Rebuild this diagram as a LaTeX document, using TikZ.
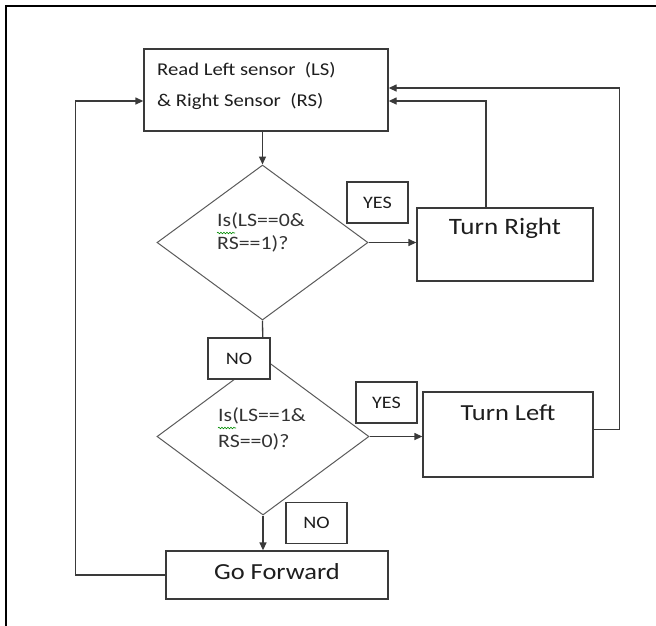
\documentclass[tikz,border=0pt]{standalone}
\usepackage{fontspec}
\setmainfont{Carlito}[FakeStretch=1.15]
\usetikzlibrary{shapes.geometric,arrows.meta,decorations.pathmorphing}
\definecolor{ln}{HTML}{3A3A3A}
\definecolor{dm}{HTML}{5A5A5A}
\definecolor{tx}{HTML}{1E1E1E}
\tikzset{
  box/.style={draw=ln,line width=1.3pt,rectangle,inner sep=0pt,fill=white},
  dia/.style={draw=dm,line width=1pt,diamond,inner sep=0pt},
  lab/.style={draw=ln,line width=1.2pt,rectangle,inner sep=0pt,fill=white,minimum width=61pt,minimum height=41pt,font=\fontsize{17.5}{20}\selectfont,text=tx},
  txt/.style={inner sep=0pt,text=tx},
  qtxt/.style={txt,anchor=west,font=\fontsize{19}{22}\selectfont,text=black!80},
  conn/.style={draw=ln,line width=1.3pt},
  arr/.style={conn,-{Triangle[length=8pt,width=7pt]}},
  squig/.style={draw=green!55!black,line width=0.6pt,decorate,decoration={snake,amplitude=0.8pt,segment length=3pt}}
}
\begin{document}
\begin{tikzpicture}[x=1pt,y=-1pt]
\useasboundingbox (0,0) rectangle (656,625);
\draw[line width=2.2pt,black] (6,626) -- (6,6) -- (657,6);
% boxes
\node[box,minimum width=244pt,minimum height=82pt] (read) at (266,90) {};
\node[box,minimum width=176pt,minimum height=73pt] (tr) at (505,244.5) {};
\node[box,minimum width=170pt,minimum height=85pt] (tl) at (508,434.5) {};
\node[box,minimum width=222pt,minimum height=48pt] (gf) at (277,575) {};
% diamonds
\node[dia,minimum width=211pt,minimum height=155pt] (d1) at (262.5,242.5) {};
\node[dia,minimum width=212pt,minimum height=157pt] (d2) at (263,436.5) {};
% texts
\node[txt,anchor=west,font=\fontsize{18}{20}\selectfont] (t1) at (157,70) {Read Left sensor\ \ (LS)};
\node[txt,anchor=west,font=\fontsize{18}{20}\selectfont] (t2) at (157,101) {\&\ Right Sensor\ \ (RS)};
\node[txt,font=\fontsize{23.5}{26}\selectfont] (ttr) at (505,228) {Turn Right};
\node[txt,font=\fontsize{23}{26}\selectfont] (ttl) at (508,413) {Turn Left};
\node[txt,font=\fontsize{23}{26}\selectfont] (tgf) at (277,572) {Go Forward};
\node[qtxt] (q1a) at (217,221) {Is(LS==0\&};
\node[qtxt] (q1b) at (217,244) {RS==1)?};
\node[qtxt] (q2a) at (218,416) {Is(LS==1\&};
\node[qtxt] (q2b) at (218,442) {RS==0)?};
\draw[squig] (217,233) -- (235,233);
\draw[squig] (218,428) -- (236,428);
% connectors
\draw[arr] (d1.north |- read.south) -- (d1.north);
\draw[conn] (d1.south) -- (d2.north);
\draw[arr] (d1.east) -- (d1.east -| tr.west);
\draw[arr] (d2.east) -- (d2.east -| tl.west);
\draw[arr] (d2.south) -- (d2.south |- gf.north);
\draw[arr] ([xshift=-19pt]tr.north) |- ([yshift=-11pt]read.east);
\draw[arr] ([yshift=5pt]tl.east) -- ++(26pt,0) |- ([yshift=2pt]read.east);
\draw[arr] (gf.west) -- ++(-90pt,0) |- ([yshift=-11pt]read.west);
% yes / no labels
\node[lab] (yes1) at (377.5,202.5) {YES};
\node[lab] (yes2) at (386.5,402.5) {YES};
\node[lab,minimum width=62pt] (no1) at (239,358.5) {NO};
\node[lab] (no2) at (316.5,523) {NO};
\end{tikzpicture}
\end{document}
